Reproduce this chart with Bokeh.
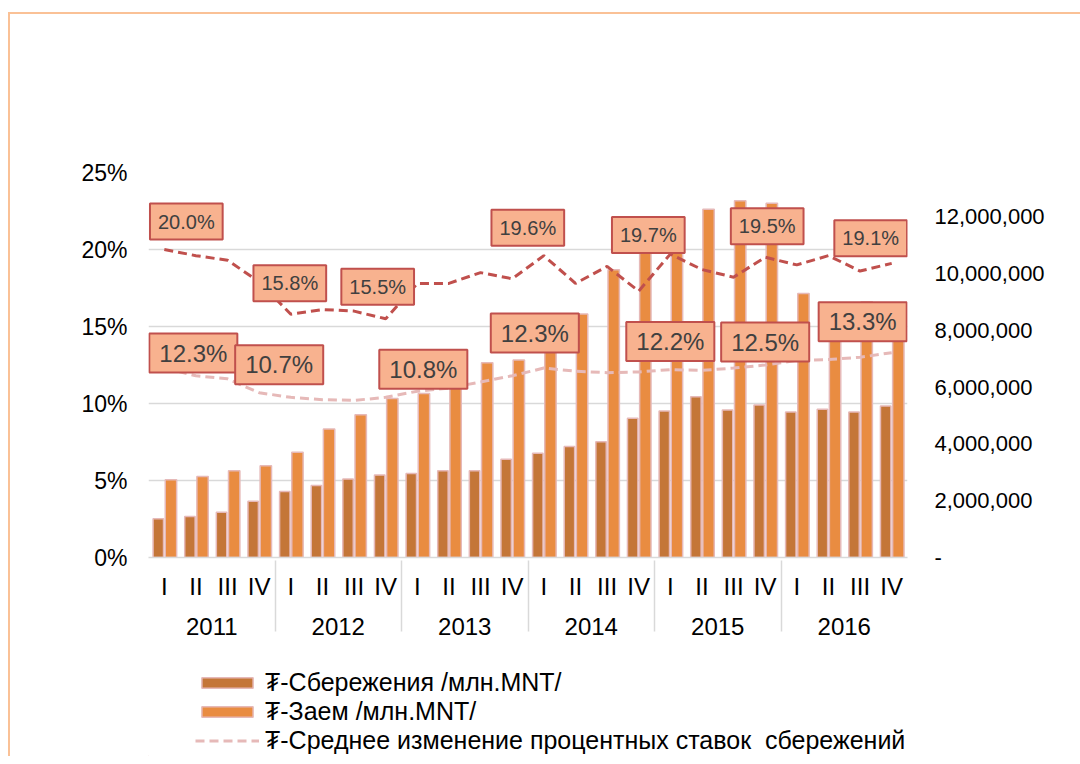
from bokeh.plotting import figure
from bokeh.layouts import column
from bokeh.models import (FactorRange, Range1d, LinearAxis, NumeralTickFormatter, Legend,
                          LegendItem, ColumnDataSource, FixedTicker)
from bokeh.transform import dodge
from bokeh.core.properties import value
from bokeh.embed import file_html
from bokeh.resources import INLINE

years = ["2011", "2012", "2013", "2014", "2015", "2016"]
quarters = ["I", "II", "III", "IV"]

savings = [1360000, 1440000, 1590000, 1980000,
           2320000, 2530000, 2760000, 2900000,
           2960000, 3050000, 3050000, 3460000,
           3670000, 3910000, 4070000, 4900000,
           5160000, 5660000, 5190000, 5370000,
           5120000, 5220000, 5120000, 5330000]
loans = [2740000, 2850000, 3050000, 3230000,
         3700000, 4520000, 5020000, 5600000,
         5770000, 6200000, 6850000, 6950000,
         7500000, 8570000, 10130000, 10900000,
         11400000, 12260000, 12560000, 12470000,
         9290000, 8970000, 9000000, 8200000]
loan_rate = [20.0, 19.6, 19.3, 17.9,
             15.8, 16.1, 16.0, 15.5,
             17.8, 17.8, 18.5, 18.1,
             19.6, 17.8, 18.9, 17.3,
             19.7, 18.7, 18.2, 19.5,
             19.0, 19.6, 18.6, 19.1]
saving_rate = [12.3, 11.8, 11.6, 10.7,
               10.4, 10.25, 10.2, 10.4,
               10.8, 11.0, 11.4, 11.8,
               12.3, 12.1, 12.0, 12.05,
               12.2, 12.15, 12.3, 12.5,
               12.8, 12.85, 13.0, 13.3]

left_ticks = [0, 0.05, 0.10, 0.15, 0.20, 0.25]
right_ticks = [0, 2000000, 4000000, 6000000, 8000000, 10000000, 12000000]

legend_labels = ["₮-Сбережения /млн.MNT/", "₮-Заем /млн.MNT/",
                 "₮-Среднее изменение процентных ставок  сбережений"]

# which points carry a data label (index into the 24 quarters)
loan_label_idx = [0, 4, 7, 12, 16, 19, 23]
saving_label_idx = [0, 3, 8, 12, 16, 19, 23]
# label box offsets in screen pixels (styling, not data)
loan_label_dx = [22, -1, -8, -16, -22, 2, -21]
loan_label_dy = [-28, -31, -32, -28, -19, -31, -25]
saving_label_dx = [29, 20, 6, -9, 0, 0, -29]
saving_label_dy = [-15, -28, -22, -35, -28, -23, -31]

factors = [(y, q) for y in years for q in quarters]

src = ColumnDataSource(dict(
    x=factors, savings=savings, loans=loans,
    lr=[v / 100 for v in loan_rate], sr=[v / 100 for v in saving_rate]))

SAV_STYLE = dict(fill_color="#C47638", line_color="#E6B9B8", line_width=1.5)
LOAN_STYLE = dict(fill_color="#E98C41", line_color="#E6B9B8", line_width=1.5)
SR_STYLE = dict(line_color="#E6B9B8", line_width=3, line_dash="9 5")

p = figure(x_range=FactorRange(*factors, range_padding=0, group_padding=0, subgroup_padding=0),
           y_range=Range1d(0, 0.25), width=1070, height=654,
           output_backend="svg", toolbar_location=None,
           min_border_left=138, min_border_right=173, min_border_top=158, min_border_bottom=111)
p.outline_line_color = None
p.background_fill_color = "white"
p.extra_y_ranges = {"money": Range1d(0, 13550000)}

# axes
ya = p.yaxis[0]
ya.ticker = FixedTicker(ticks=left_ticks)
ya.formatter = NumeralTickFormatter(format="0%")
ya.axis_line_color = None
ya.major_tick_line_color = None
ya.major_tick_out = 0
ya.minor_tick_line_color = None
ya.major_label_standoff = 21
ya.major_label_text_font = "Liberation Sans"
ya.major_label_text_font_size = "23px"
ya.major_label_text_color = "#000000"

ra = LinearAxis(y_range_name="money", ticker=FixedTicker(ticks=right_ticks),
                formatter=NumeralTickFormatter(format="0,0"))
ra.major_label_overrides = {0: "-"}
ra.axis_line_color = None
ra.major_tick_line_color = None
ra.major_tick_out = 0
ra.minor_tick_line_color = None
ra.major_label_standoff = 27
ra.major_label_text_font = "Liberation Sans"
ra.major_label_text_font_size = "22px"
ra.major_label_text_color = "#000000"
p.add_layout(ra, "right")

xa = p.xaxis[0]
xa.axis_line_color = "#D9D9D9"
xa.axis_line_width = 1.5
xa.major_tick_line_color = None
xa.major_tick_out = 0
xa.minor_tick_line_color = None
xa.major_label_standoff = 15
xa.major_label_text_font = "Liberation Sans"
xa.major_label_text_font_size = "24px"
xa.major_label_text_color = "#000000"
xa.group_text_font = "Liberation Sans"
xa.group_text_font_size = "24px"
xa.group_text_color = "#000000"
xa.group_text_font_style = "normal"
xa.separator_line_color = "#D9D9D9"
xa.separator_line_width = 1.5

p.xgrid.grid_line_color = None
p.ygrid.grid_line_color = "#D9D9D9"
p.ygrid.grid_line_width = 1.5

# bars
r_sav = p.vbar(x=dodge("x", -0.19, range=p.x_range), top="savings", width=0.33, source=src,
               y_range_name="money", **SAV_STYLE)
r_loan = p.vbar(x=dodge("x", 0.21, range=p.x_range), top="loans", width=0.36, source=src,
                y_range_name="money", **LOAN_STYLE)

# lines
r_lr = p.line(x="x", y="lr", source=src, line_color="#C0504D", line_width=3, line_dash="9 5")
r_sr = p.line(x="x", y="sr", source=src, **SR_STYLE)

# data labels
lsrc = ColumnDataSource(dict(
    x=[factors[i] for i in loan_label_idx],
    y=[loan_rate[i] / 100 for i in loan_label_idx],
    text=["%.1f%%" % loan_rate[i] for i in loan_label_idx],
    dx=loan_label_dx, dy=loan_label_dy))
ssrc = ColumnDataSource(dict(
    x=[factors[i] for i in saving_label_idx],
    y=[saving_rate[i] / 100 for i in saving_label_idx],
    text=["%.1f%%" % saving_rate[i] for i in saving_label_idx],
    dx=saving_label_dx, dy=saving_label_dy))

p.text(x="x", y="y", text="text", x_offset="dx", y_offset="dy", source=lsrc,
       text_align="center", text_baseline="middle", text_font=value("Liberation Sans"),
       text_font_size="20px", text_color="#404040",
       background_fill_color="#F8B28F", border_line_color="#C0504D", border_line_width=2,
       padding=(8, 7))
p.text(x="x", y="y", text="text", x_offset="dx", y_offset="dy", source=ssrc,
       text_align="center", text_baseline="middle", text_font=value("Liberation Sans"),
       text_font_size="24px", text_color="#404040",
       background_fill_color="#F8B28F", border_line_color="#C0504D", border_line_width=2,
       padding=(10, 6))

# legend strip below the chart (its own small canvas so nothing is clipped);
# the key glyphs sit outside its visible range, only their legend swatches show
lg = figure(width=1070, height=88, x_range=Range1d(0, 1), y_range=Range1d(0, 1),
            output_backend="svg", toolbar_location=None,
            min_border_left=0, min_border_right=0, min_border_top=0, min_border_bottom=0)
lg.axis.visible = False
lg.grid.grid_line_color = None
lg.outline_line_color = None
k_sav = lg.vbar(x=[-5], top=[-5], bottom=[-6], width=0.1, **SAV_STYLE)
k_loan = lg.vbar(x=[-5], top=[-5], bottom=[-6], width=0.1, **LOAN_STYLE)
k_sr = lg.line(x=[-5, -6], y=[-5, -6], **SR_STYLE)

legend = Legend(items=[LegendItem(label=legend_labels[0], renderers=[k_sav]),
                       LegendItem(label=legend_labels[1], renderers=[k_loan]),
                       LegendItem(label=legend_labels[2], renderers=[k_sr])],
                location=(47, 1))
legend.glyph_width = 64
legend.glyph_height = 13
legend.label_height = 25
legend.spacing = 0
legend.padding = 0
legend.margin = 0
legend.label_standoff = 6
legend.border_line_color = None
legend.background_fill_alpha = 0
legend.label_text_font = "Liberation Sans"
legend.label_text_font_size = "25px"
legend.label_text_color = "#000000"
lg.add_layout(legend)

layout = column(p, lg, spacing=0,
                styles={"border-top": "2px solid #FAC196", "border-left": "2px solid #FAC196",
                        "margin-top": "12px", "margin-left": "8px"})

open("out.html", "w").write(file_html(layout, INLINE))
